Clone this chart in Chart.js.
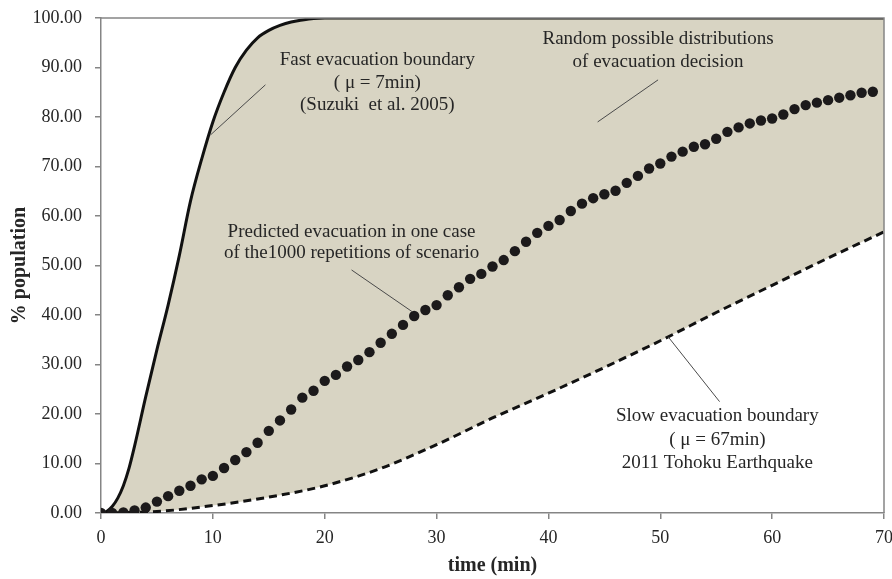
<!DOCTYPE html>
<html>
<head>
<meta charset="utf-8">
<script src="https://cdn.jsdelivr.net/npm/chart.js@4.4.1/dist/chart.umd.min.js"></script>
<style>
  html, body { margin: 0; padding: 0; background: #fff; }
  #wrap { width: 892px; height: 579px; }
</style>
</head>
<body>
<div id="wrap"><canvas id="evacChart" width="892" height="579"></canvas></div>
<script>
/* =========================================================
   DATA
========================================================= */
const xTicks = [0, 10, 20, 30, 40, 50, 60, 70];
const yTicks = [0, 10, 20, 30, 40, 50, 60, 70, 80, 90, 100];

// fast evacuation boundary (mu = 7 min)
const fastTime = [0, 0.5, 1, 1.5, 2, 2.5, 3, 4, 5, 6, 7, 8, 9, 10, 11, 12, 13, 14, 15, 16, 17, 18, 19, 20, 25, 30, 40, 50, 60, 70];
const fastPct  = [0, 0.3, 1.3, 3, 5.5, 9, 13.5, 23.5, 33, 42, 52, 63, 71.5, 79, 85, 90, 93.5, 96, 97.5, 98.5, 99.2, 99.6, 99.9, 100, 100, 100, 100, 100, 100, 100];

// slow evacuation boundary (mu = 67 min)
const slowTime = [0, 5, 10, 15, 20, 25, 30, 35, 40, 45, 50, 55, 60, 65, 70];
const slowPct  = [0, 0.3, 1.5, 3.2, 5.5, 9, 13.8, 19.2, 24.2, 29.4, 34.8, 40.5, 46, 51.5, 56.8];

// one predicted run, one dot per minute (0..69)
const caseTime = Array.from({ length: 70 }, (_, i) => i);
const casePct = [
  0, 0, 0.1, 0.5, 1.1, 2.3, 3.4, 4.5, 5.5, 6.8,
  7.5, 9.1, 10.7, 12.3, 14.2, 16.6, 18.7, 20.9, 23.3, 24.7,
  26.7, 27.9, 29.6, 30.9, 32.5, 34.4, 36.2, 38.0, 39.8, 41.0,
  42.0, 44.0, 45.6, 47.3, 48.3, 49.8, 51.1, 52.9, 54.8, 56.6,
  58.0, 59.2, 61.0, 62.5, 63.6, 64.4, 65.1, 66.7, 68.1, 69.6,
  70.6, 72.0, 73.0, 74.0, 74.5, 75.6, 77.0, 77.9, 78.7, 79.3,
  79.7, 80.5, 81.6, 82.4, 82.9, 83.4, 83.9, 84.4, 84.9, 85.1
];

const toPoints = (xs, ys) => xs.map((x, i) => ({ x, y: ys[i] }));

/* =========================================================
   STYLE
========================================================= */
const SERIF = "'Liberation Serif', 'DejaVu Serif', serif";
const BAND = "#d8d4c3";
const AXIS = "#858585";
const INK = "#262626";

/* =========================================================
   ANNOTATIONS (text + leader lines, in data units)
========================================================= */
const notes = [
  { x: 24.7, y: [91.5, 86.9, 82.4], lines: ["Fast evacuation boundary", "( \u03bc = 7min)", "(Suzuki  et al. 2005)"],
    lead: [[14.7, 86.5], [9.8, 76.4]] },
  { x: 49.8, y: [95.7, 91.2], lines: ["Random possible distributions", "of evacuation decision"],
    lead: [[49.8, 87.5], [44.4, 79.0]] },
  { x: 22.4, y: [56.8, 52.5], lines: ["Predicted evacuation in one case", "of the1000 repetitions of scenario"],
    lead: [[22.4, 49.1], [27.8, 40.7]] },
  { x: 55.1, y: [19.5, 14.7, 10.1], lines: ["Slow evacuation boundary", "( \u03bc = 67min)", "2011 Tohoku Earthquake"],
    lead: [[55.3, 22.5], [50.7, 35.6]] }
];

const notesPlugin = {
  id: "notes",
  afterDatasetsDraw(chart) {
    const { ctx, scales: { x, y } } = chart;
    ctx.save();
    ctx.strokeStyle = "#4a4a4a";
    ctx.lineWidth = 1;
    notes.forEach(n => {
      ctx.beginPath();
      ctx.moveTo(x.getPixelForValue(n.lead[0][0]), y.getPixelForValue(n.lead[0][1]));
      ctx.lineTo(x.getPixelForValue(n.lead[1][0]), y.getPixelForValue(n.lead[1][1]));
      ctx.stroke();
    });
    ctx.fillStyle = INK;
    ctx.font = "19px " + SERIF;
    ctx.textAlign = "center";
    ctx.textBaseline = "middle";
    notes.forEach(n => {
      n.lines.forEach((t, i) => {
        ctx.fillText(t, x.getPixelForValue(n.x), y.getPixelForValue(n.y[i]));
      });
    });
    ctx.restore();
  }
};

// top + right edge of the plot frame
const framePlugin = {
  id: "frame",
  afterDraw(chart) {
    const { ctx, chartArea: a } = chart;
    ctx.save();
    ctx.strokeStyle = AXIS;
    ctx.lineWidth = 1.5;
    ctx.beginPath();
    ctx.moveTo(a.left, a.top);
    ctx.lineTo(a.right, a.top);
    ctx.lineTo(a.right, a.bottom);
    ctx.stroke();
    ctx.restore();
  }
};

/* =========================================================
   CHART
========================================================= */
new Chart(document.getElementById("evacChart"), {
  type: "line",
  data: {
    datasets: [
      {
        label: "Predicted evacuation",
        data: toPoints(caseTime, casePct),
        showLine: false,
        pointRadius: 5.2,
        pointBackgroundColor: "#1c1a1b",
        pointBorderColor: "#1c1a1b",
        pointBorderWidth: 0,
        order: 0
      },
      {
        label: "Fast evacuation boundary",
        data: toPoints(fastTime, fastPct),
        borderColor: "#111",
        borderWidth: 3,
        pointRadius: 0,
        cubicInterpolationMode: "monotone",
        fill: "+1",
        backgroundColor: BAND,
        order: 1
      },
      {
        label: "Slow evacuation boundary",
        data: toPoints(slowTime, slowPct),
        borderColor: "#111",
        borderWidth: 3,
        borderDash: [8, 5],
        pointRadius: 0,
        cubicInterpolationMode: "monotone",
        fill: false,
        order: 2
      }
    ]
  },
  options: {
    responsive: false,
    animation: false,
    layout: { padding: { left: 0, top: 18, right: 8, bottom: 0 } },
    plugins: {
      legend: { display: false },
      tooltip: { enabled: false },
      filler: { drawTime: "beforeDatasetsDraw" }
    },
    scales: {
      x: {
        type: "linear",
        min: 0,
        max: 70,
        afterFit: s => { s.height = 66; s.paddingLeft = 0; s.paddingRight = 0; },
        afterBuildTicks: s => { s.ticks = xTicks.map(v => ({ value: v })); },
        grid: { drawOnChartArea: false, tickLength: 6, color: AXIS, lineWidth: 1.5 },
        border: { color: AXIS, width: 1.5 },
        ticks: { color: INK, font: { family: SERIF, size: 18 }, padding: 8, maxRotation: 0 },
        title: {
          display: true,
          text: "time (min)",
          color: INK,
          font: { family: SERIF, size: 20, weight: "bold" },
          padding: { top: 0, bottom: 1 }
        }
      },
      y: {
        min: 0,
        max: 100,
        afterFit: s => { s.width = 101; s.paddingTop = 0; s.paddingBottom = 0; },
        afterBuildTicks: s => { s.ticks = yTicks.map(v => ({ value: v })); },
        grid: { drawOnChartArea: false, tickLength: 6, color: AXIS, lineWidth: 1.5 },
        border: { color: AXIS, width: 1.5 },
        ticks: { color: INK, font: { family: SERIF, size: 18 }, padding: 13, callback: v => v.toFixed(2) },
        title: {
          display: true,
          text: "% population",
          color: INK,
          font: { family: SERIF, size: 20, weight: "bold" },
          padding: { top: 8, bottom: 0 }
        }
      }
    }
  },
  plugins: [notesPlugin, framePlugin]
});
</script>
</body>
</html>
